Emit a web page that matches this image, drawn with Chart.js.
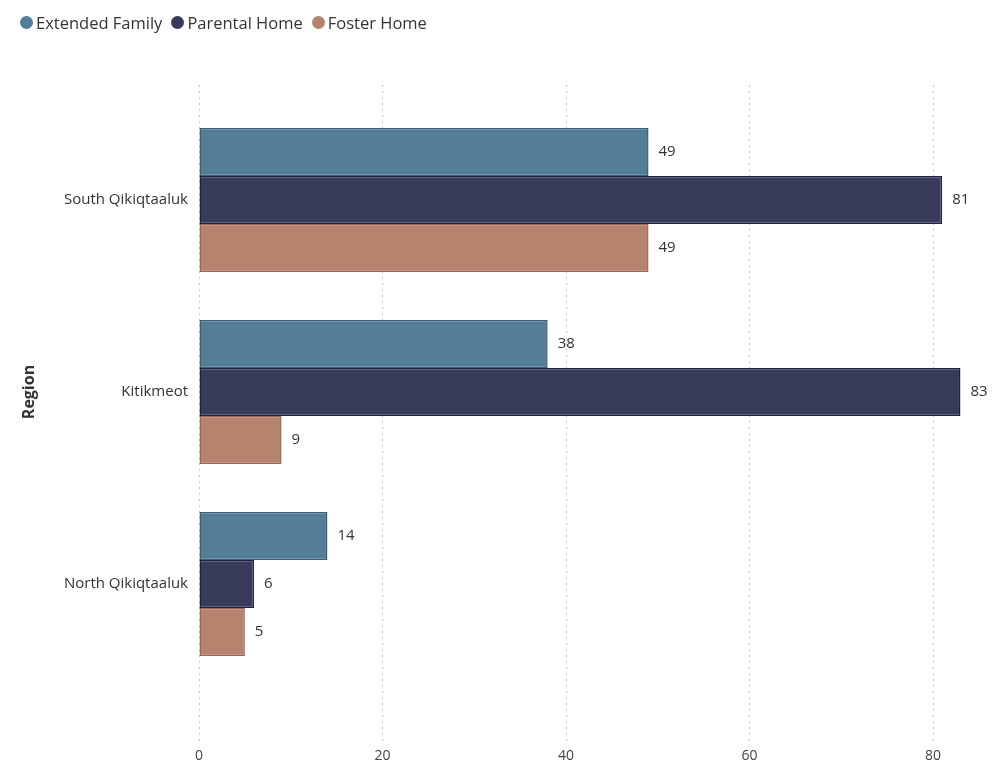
<!DOCTYPE html>
<html>
<head>
<meta charset="utf-8">
<script src="https://cdn.jsdelivr.net/npm/chart.js@4/dist/chart.umd.min.js"></script>
<style>
  html, body { margin: 0; padding: 0; background: #fff; }
  #wrap { position: relative; width: 1004px; height: 776px; }
  #legend { position: absolute; left: 20px; top: 11px; font-family: "Open Sans", "Noto Sans", sans-serif; font-size: 16.5px; color: #333; display: flex; gap: 9px; white-space: nowrap; }
  .item { display: flex; align-items: center; }
  .dot { width: 13px; height: 13px; border-radius: 50%; margin-right: 3px; }
</style>
</head>
<body>
<div id="wrap">
  <div id="legend"></div>
  <canvas id="c" width="1004" height="776"></canvas>
</div>
<script>
const categories = ["South Qikiqtaaluk", "Kitikmeot", "North Qikiqtaaluk"];
const seriesNames = ["Extended Family", "Parental Home", "Foster Home"];
const extendedFamily = [49, 38, 14];
const parentalHome = [81, 83, 6];
const fosterHome = [49, 9, 5];
const xTicks = [0, 20, 40, 60, 80];
const fillColors = ["#547d98", "#383a5a", "#b5836e"];
const borderColors = ["#3c5d76", "#1e2140", "#9a6653"];

const legend = document.getElementById('legend');
seriesNames.forEach((n, i) => {
  const d = document.createElement('div'); d.className = 'item';
  d.innerHTML = '<span class="dot" style="background:' + fillColors[i] + '"></span><span>' + n + '</span>';
  legend.appendChild(d);
});

const gridPlugin = {
  id: 'gridExt',
  beforeDatasetsDraw(chart) {
    const ctx = chart.ctx, xs = chart.scales.x;
    ctx.save();
    ctx.strokeStyle = '#c9c5b9';
    ctx.lineWidth = 1;
    ctx.setLineDash([2, 4]);
    xTicks.forEach(v => {
      const x = Math.round(xs.getPixelForValue(v)) + 0.5;
      ctx.beginPath(); ctx.moveTo(x, 85); ctx.lineTo(x, 741); ctx.stroke();
    });
    ctx.restore();
  }
};

const labelPlugin = {
  id: 'valLabels',
  afterDatasetsDraw(chart) {
    const ctx = chart.ctx;
    ctx.save();
    ctx.font = '15px "Open Sans", "Noto Sans", sans-serif';
    ctx.fillStyle = '#333';
    ctx.textAlign = 'left';
    ctx.textBaseline = 'middle';
    chart.data.datasets.forEach((ds, i) => {
      chart.getDatasetMeta(i).data.forEach((bar, j) => {
        ctx.fillText(String(ds.data[j]), bar.x + 10, bar.y);
      });
    });
    ctx.restore();
  }
};

const dataArrays = [extendedFamily, parentalHome, fosterHome];
new Chart(document.getElementById('c'), {
  type: 'bar',
  data: {
    labels: categories,
    datasets: seriesNames.map((n, i) => ({
      label: n,
      data: dataArrays[i],
      backgroundColor: fillColors[i],
      borderColor: borderColors[i],
      borderWidth: 1.5,
      borderSkipped: false,
      categoryPercentage: 0.75,
      barPercentage: 1.0
    }))
  },
  options: {
    indexAxis: 'y',
    responsive: false,
    animation: false,
    layout: { padding: { top: 104, right: 16, left: 0, bottom: 0 } },
    plugins: { legend: { display: false }, tooltip: { enabled: false } },
    scales: {
      x: {
        min: 0, max: 86,
        afterBuildTicks(scale) { scale.ticks = xTicks.map(v => ({ value: v })); },
        grid: { display: true, drawOnChartArea: false, drawTicks: true, tickLength: 60, color: 'rgba(0,0,0,0)' },
        border: { display: false },
        ticks: { padding: 8, color: '#444', font: { family: '"Open Sans", "Noto Sans", sans-serif', size: 14 } },
        afterFit(scale) { scale.height = 96; }
      },
      y: {
        grid: { display: false, drawTicks: false },
        border: { display: false },
        ticks: { padding: 11, color: '#333', font: { family: '"Open Sans", "Noto Sans", sans-serif', size: 15 } },
        title: { display: true, text: 'Region', color: '#333', padding: { top: 20, bottom: 0 }, font: { family: '"Open Sans", "Noto Sans", sans-serif', size: 16, weight: 'bold' } },
        afterFit(scale) { scale.width = 199; }
      }
    }
  },
  plugins: [gridPlugin, labelPlugin]
});
</script>
</body>
</html>
